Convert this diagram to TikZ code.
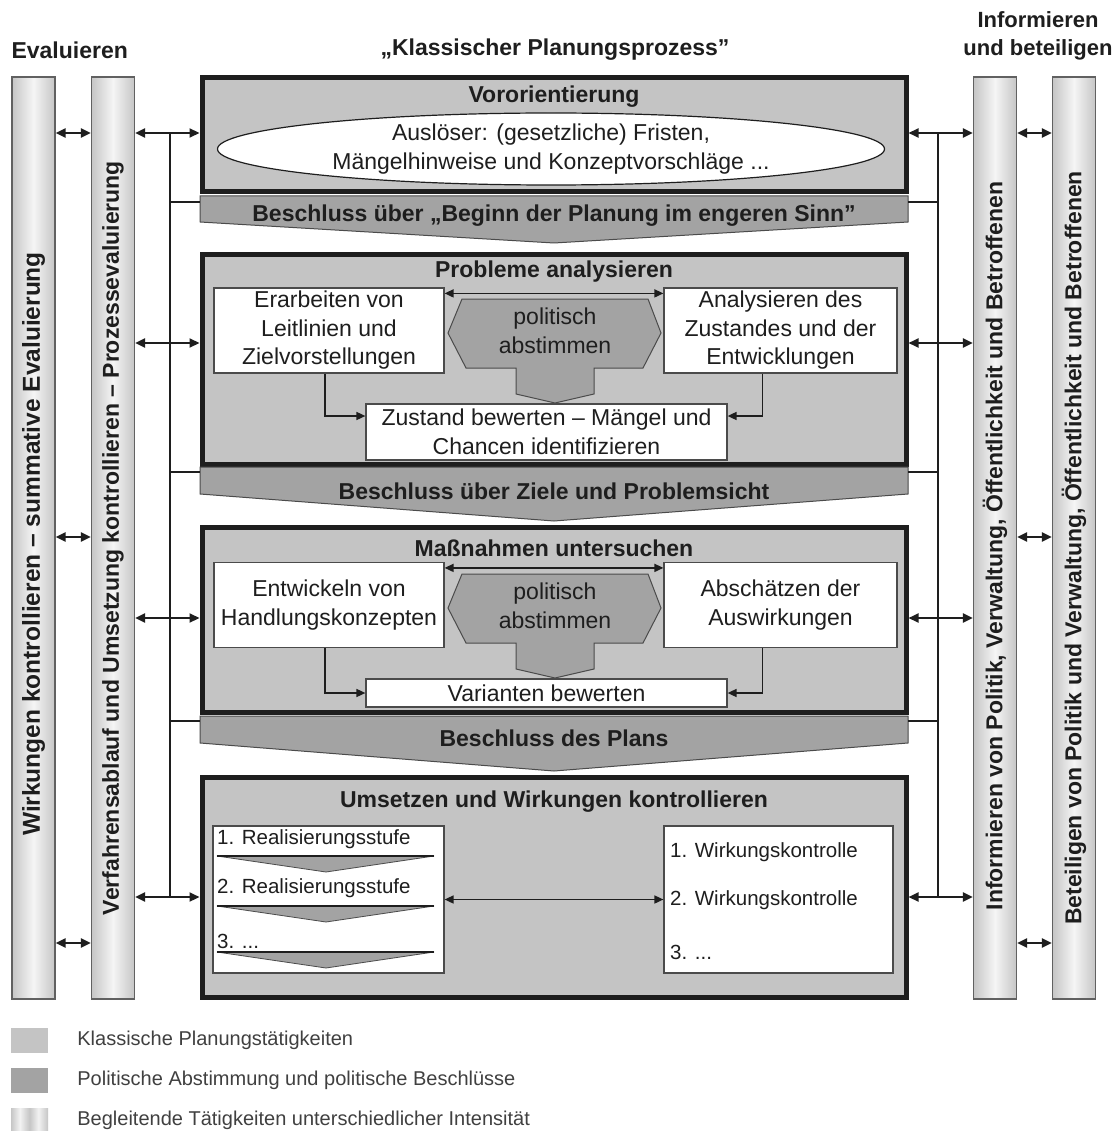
\documentclass[tikz,border=0pt]{standalone}
\usepackage{fontspec}
\setmainfont{Liberation Sans}
\usetikzlibrary{positioning,arrows.meta,shapes.geometric}

\definecolor{boxgray}{RGB}{196,196,196}
\definecolor{polgray}{RGB}{163,163,163}
\definecolor{ink}{RGB}{30,30,30}

% shadings for the accompanying bars
\pgfdeclarehorizontalshading{barshade}{100bp}{color(0bp)=(gray!80); color(25bp)=(gray!45); color(50bp)=(gray!8); color(75bp)=(gray!45); color(100bp)=(gray!80)}
\pgfdeclarehorizontalshading{stripeshade}{100bp}{color(0bp)=(gray!45); color(12bp)=(gray!10); color(25bp)=(gray!45); color(37bp)=(gray!10); color(50bp)=(gray!45); color(62bp)=(gray!10); color(75bp)=(gray!45); color(87bp)=(gray!10); color(100bp)=(gray!45)}

\tikzset{
  mainbox/.style={draw=ink, line width=5pt, fill=boxgray, minimum width=704pt, inner sep=0pt},
  whitebox/.style={draw=ink!80, line width=1.2pt, fill=white, inner sep=0pt},
  bar/.style={draw=ink!70, line width=1.2pt, shading=barshade, minimum width=43pt, minimum height=922pt, inner sep=0pt},
  bartext/.style={rotate=90, text=ink, font=\bfseries\fontsize{23}{27}\selectfont},
  ttl/.style={text=ink, font=\bfseries\fontsize{23}{27}\selectfont},
  txt/.style={text=ink, align=center, font=\fontsize{23}{28.5}\selectfont},
  listtxt/.style={text=ink, anchor=west, inner sep=0pt, font=\fontsize{20.5}{25}\selectfont},
  lgtxt/.style={text=ink!85, inner sep=0pt, font=\fontsize{20}{24}\selectfont},
  banner/.style={draw=ink!80, line width=1pt, fill=polgray},
  hexa/.style={draw=ink!80, line width=1pt, fill=polgray},
  biarrow/.style={{Triangle[length=10pt,width=9pt]}-{Triangle[length=10pt,width=9pt]}, line width=2.2pt, draw=ink},
  innerarrow/.style={{Triangle[length=9pt,width=8pt]}-{Triangle[length=9pt,width=8pt]}, line width=1.6pt, draw=ink},
  elbow/.style={-{Triangle[length=9pt,width=8pt]}, line width=1.6pt, draw=ink},
  link/.style={line width=2.2pt, draw=ink},
}

\begin{document}
\begin{tikzpicture}[x=1pt,y=-1pt]
\fill[white] (0,0) rectangle (1115,1131);
\useasboundingbox (0,0) rectangle (1115,1131);

% headings
\node[ttl, anchor=west] (hevl) at (8,50) {Evaluieren};
\node[ttl] (hplan) at (555,50) {„Klassischer Planungsprozess"};
\node[ttl, align=center, font=\bfseries\fontsize{22}{28}\selectfont] (hinf) at (1038,36) {Informieren\\und beteiligen};

% accompanying bars
\node[bar] (ev1) at (33.5,538) {};
\node[bar] (ev2) at (113,538) {};
\node[bar] (in1) at (995,538) {};
\node[bar] (in2) at (1074,538) {};
\node[bartext, font=\bfseries\fontsize{24.5}{28}\selectfont] (ev1t) at (33.5,544) {Wirkungen kontrollieren – summative Evaluierung};
\node[bartext] (ev2t) at (ev2) {Verfahrensablauf und Umsetzung kontrollieren – Prozessevaluierung};
\node[bartext] (in1t) at (995,546) {Informieren von Politik, Verwaltung, Öffentlichkeit und Betroffenen};
\node[bartext] (in2t) at (1074,548) {Beteiligen von Politik und Verwaltung, Öffentlichkeit und Betroffenen};

% main phases
\node[mainbox, minimum height=114pt] (vor) at (554,134.5) {};
\node[mainbox, minimum height=210pt] (prob) at (554,359.5) {};
\node[mainbox, minimum height=185pt] (mass) at (554,620) {};
\node[mainbox, minimum height=220pt] (ums) at (554,887.5) {};

% decisions
\draw[banner] (200,196) -- (908,196) -- (908,222) -- (554,243) -- (200,222) -- cycle;
\draw[banner] (200,467) -- (908,467) -- (908,494) -- (554,521) -- (200,494) -- cycle;
\draw[banner] (200,716) -- (908,716) -- (908,743) -- (554,771) -- (200,743) -- cycle;
\node[ttl] (bes1) at (554,216) {Beschluss über „Beginn der Planung im engeren Sinn"};
\node[ttl] (bes2) at (554,491) {Beschluss über Ziele und Problemsicht};
\node[ttl] (bes3) at (554,738) {Beschluss des Plans};

% Vororientierung
\node[ttl] (vort) at (554,97) {Vororientierung};
\node[draw=ink, line width=1.2pt, fill=white, ellipse, inner sep=0pt, minimum width=667pt, minimum height=72pt] (ausl) at (551,149) {};
\node[txt] (auslt) at (ausl) {Auslöser: (gesetzliche) Fristen,\\Mängelhinweise und Konzeptvorschläge ...};

% Probleme analysieren
\node[ttl] (probt) at (554,272) {Probleme analysieren};
\node[whitebox, txt, minimum width=230pt, minimum height=85pt] (leit) at (329,330.5) {Erarbeiten von\\Leitlinien und\\Zielvorstellungen};
\node[whitebox, txt, minimum width=233pt, minimum height=85pt] (anal) at (780.5,330.5) {Analysieren des\\Zustandes und der\\Entwicklungen};
\node[whitebox, txt, minimum width=361pt, minimum height=56pt] (bew) at (546.5,432) {Zustand bewerten – Mängel und\\Chancen identifizieren};

% Massnahmen untersuchen
\node[ttl] (masst) at (554,548) {Maßnahmen untersuchen};
\node[whitebox, txt, minimum width=230pt, minimum height=85pt] (hand) at (329,605) {Entwickeln von\\Handlungskonzepten};
\node[whitebox, txt, minimum width=233pt, minimum height=85pt] (ausw) at (780.5,605) {Abschätzen der\\Auswirkungen};
\node[whitebox, txt, minimum width=361pt, minimum height=28pt] (var) at (546.5,693) {Varianten bewerten};

% politisch abstimmen
\foreach \dy/\nm in {0/pol1, 275/pol2} {
  \draw[hexa, shift={(0,\dy)}] (448,333) -- (462,299) -- (648,299) -- (661,333) -- (643,368)
    -- (594,368) -- (594,394) -- (555,403) -- (516,394) -- (516,368) -- (466,368) -- cycle;
  \node[txt] (\nm) at (555,{331+\dy}) {politisch\\abstimmen};
}

\draw[innerarrow] ([yshift=-6pt]leit.north east) -- ([yshift=-6pt]anal.north west);
\draw[elbow] ([xshift=-4pt]leit.south) |- ([yshift=16pt]bew.west);
\draw[elbow] ([xshift=-18pt]anal.south) |- ([yshift=16pt]bew.east);
\draw[innerarrow] ([yshift=-6pt]hand.north east) -- ([yshift=-6pt]ausw.north west);
\draw[elbow] ([xshift=-4pt]hand.south) |- (var.west);
\draw[elbow] ([xshift=-18pt]ausw.south) |- (var.east);

% Umsetzen und Wirkungen kontrollieren
\node[ttl] (umst) at (554,802) {Umsetzen und Wirkungen kontrollieren};
\node[whitebox, minimum width=231pt, minimum height=147pt] (real) at (328.5,899.5) {};
\node[whitebox, minimum width=229pt, minimum height=147pt] (wirk) at (778.5,899.5) {};
\node[listtxt] (re1) at (217,839) {1. Realisierungsstufe};
\node[listtxt] (re2) at (217,888) {2. Realisierungsstufe};
\node[listtxt] (re3) at (217,941) {3. ...};
\foreach \y in {856,906,952} {
  \draw[fill=polgray, draw=ink!80, line width=0.8pt] (217,\y) -- (434,\y) -- (326,{\y+16}) -- cycle;
  \draw[line width=2pt, draw=ink] (217,\y) -- (434,\y);
}
\node[listtxt] (wi1) at (670,852) {1. Wirkungskontrolle};
\node[listtxt] (wi2) at (670,900) {2. Wirkungskontrolle};
\node[listtxt] (wi3) at (670,952) {3. ...};
\draw[innerarrow] (real.east) -- (wirk.west);

% links to the bars, left side
\coordinate (lspine) at (170,0);
\draw[biarrow] (ev1.east |- 0,133) -- (ev2.west |- 0,133);
\draw[biarrow] (ev1.east |- 0,537) -- (ev2.west |- 0,537);
\draw[biarrow] (ev1.east |- 0,943) -- (ev2.west |- 0,943);
\draw[biarrow] (ev2.east |- 0,133) -- (vor.west |- 0,133);
\draw[biarrow] (ev2.east |- 0,343) -- (prob.west |- 0,343);
\draw[biarrow] (ev2.east |- 0,618) -- (mass.west |- 0,618);
\draw[biarrow] (ev2.east |- 0,897) -- (ums.west |- 0,897);
\draw[link] (lspine |- 0,133) -- (lspine |- 0,897);
\draw[link] (lspine |- 0,202) -- (200,202);
\draw[link] (lspine |- 0,472) -- (200,472);
\draw[link] (lspine |- 0,721) -- (200,721);

% links to the bars, right side
\coordinate (rspine) at (938,0);
\draw[biarrow] (in1.east |- 0,133) -- (in2.west |- 0,133);
\draw[biarrow] (in1.east |- 0,537) -- (in2.west |- 0,537);
\draw[biarrow] (in1.east |- 0,943) -- (in2.west |- 0,943);
\draw[biarrow] (vor.east |- 0,133) -- (in1.west |- 0,133);
\draw[biarrow] (prob.east |- 0,343) -- (in1.west |- 0,343);
\draw[biarrow] (mass.east |- 0,618) -- (in1.west |- 0,618);
\draw[biarrow] (ums.east |- 0,897) -- (in1.west |- 0,897);
\draw[link] (rspine |- 0,133) -- (rspine |- 0,897);
\draw[link] (908,202) -- (rspine |- 0,202);
\draw[link] (908,472) -- (rspine |- 0,472);
\draw[link] (908,721) -- (rspine |- 0,721);

% legend
\node[fill=boxgray, minimum width=37pt, minimum height=25pt, inner sep=0pt] (lg1) at (29.5,1040.5) {};
\node[fill=polgray, minimum width=37pt, minimum height=25pt, inner sep=0pt] (lg2) at (29.5,1080.5) {};
\node[shading=stripeshade, minimum width=37pt, minimum height=25pt, inner sep=0pt] (lg3) at (29.5,1120.5) {};
\node[lgtxt, right=29pt of lg1] (lg1t) {Klassische Planungstätigkeiten};
\node[lgtxt, right=29pt of lg2] (lg2t) {Politische Abstimmung und politische Beschlüsse};
\node[lgtxt, right=29pt of lg3] (lg3t) {Begleitende Tätigkeiten unterschiedlicher Intensität};
\end{tikzpicture}
\end{document}
